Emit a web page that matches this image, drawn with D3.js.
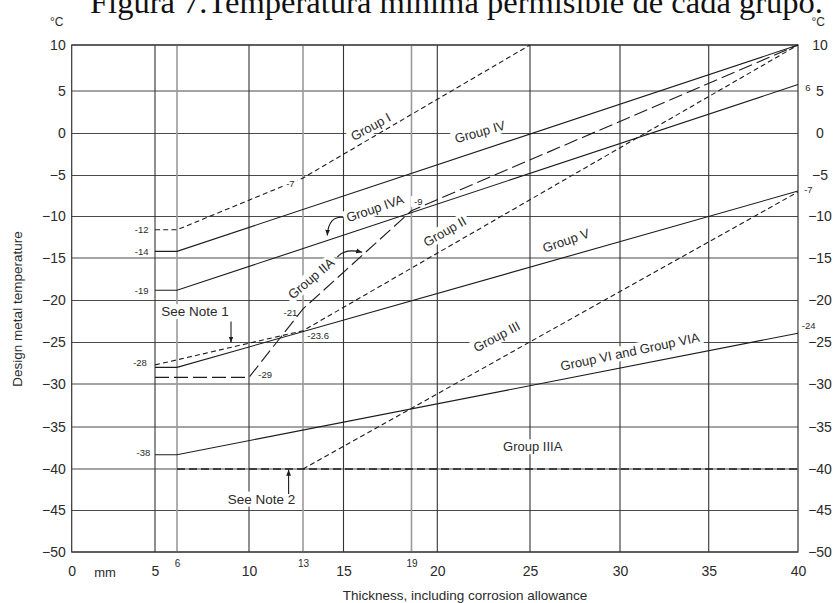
<!DOCTYPE html>
<html>
<head>
<meta charset="utf-8">
<script src="https://cdn.jsdelivr.net/npm/d3@7"></script>
<style>
  html, body { margin: 0; padding: 0; background: #fff; }
  svg { display: block; }
  text { font-family: "Liberation Sans", Arial, Helvetica, sans-serif; fill: #2a2a2a; }
</style>
</head>
<body>
<div id="chart"></div>
<script>
// Minimum permissible design metal temperature per material group
// (thickness in mm, temperature in °C)

const yTicks = [10, 5, 0, -5, -10, -15, -20, -25, -30, -35, -40, -45, -50];
const xTicks = [0, 5, 10, 15, 20, 25, 30, 35, 40];
const xMinorTicks = [6, 13, 19];

// [thickness, temperature] corner points of each curve
const groupI    = [[5, -11.6], [6, -11.6], [13, -5.3], [25, 10]];
const groupIIA  = [[5, -29.2], [10, -29.2], [13, -21], [19, -9.3], [40, 10]];
const groupIV   = [[5, -14.2], [6, -14.2], [40, 10]];
const groupIVA  = [[5, -18.8], [6, -18.8], [40, 5.7]];
const groupII   = [[5, -27.7], [13, -23.6], [40, 10]];
const groupV    = [[5, -28], [6, -28], [40, -6.9]];
const groupIII  = [[13, -40], [40, -7]];
const groupVI   = [[5, -38.3], [6, -38.3], [40, -23.9]];
const groupIIIA = [[6, -40], [40, -40]];

// ---------------------------------------------------------------------------

const W = 838, H = 603;
const svg = d3.select('#chart').append('svg')
    .attr('width', W)
    .attr('height', H);

// the printed chart is not perfectly even, so the scales are calibrated
// against the printed grid lines
const x = d3.scaleLinear()
    .domain([0, 5, 6, 10, 13, 15, 19, 20, 25, 30, 35, 40])
    .range([71.7, 155, 177, 249, 303, 343.5, 411.5, 437.3, 530, 620, 708.7, 798]);
const y = d3.scaleLinear()
    .domain(yTicks)
    .range([45, 91, 133.5, 175.5, 216.5, 258, 300.5, 342.5, 384, 427, 469, 510.5, 552]);

const [x0, x1] = [x(0), x(40)];
const [yTop, yBot] = [y(10), y(-50)];

// title (partly cut off at the top, as in the scan)
svg.append('text')
    .attr('x', 90)
    .attr('y', 13)
    .attr('textLength', 733)
    .attr('lengthAdjust', 'spacingAndGlyphs')
    .style('font-family', '"Liberation Serif", "Times New Roman", serif')
    .style('font-size', '31px')
    .style('fill', '#111')
    .text('Figura 7.Temperatura mínima permisible de cada grupo.');

// grid
const grid = svg.append('g');
grid.selectAll('line.h')
    .data(yTicks)
    .enter().append('line')
    .attr('class', 'h')
    .attr('x1', x0).attr('x2', x1)
    .attr('y1', d => y(d)).attr('y2', d => y(d))
    .attr('stroke', '#4a4a4a')
    .attr('stroke-width', 1.1);
grid.selectAll('line.vminor')
    .data(xMinorTicks)
    .enter().append('line')
    .attr('class', 'vminor')
    .attr('x1', d => x(d)).attr('x2', d => x(d))
    .attr('y1', yTop).attr('y2', yBot)
    .attr('stroke', '#9a9a9a')
    .attr('stroke-width', 1.6);
grid.selectAll('line.v')
    .data(xTicks.filter(d => d > 0 && d < 40))
    .enter().append('line')
    .attr('class', 'v')
    .attr('x1', d => x(d)).attr('x2', d => x(d))
    .attr('y1', yTop).attr('y2', yBot)
    .attr('stroke', '#333')
    .attr('stroke-width', 1.1);
grid.append('rect')
    .attr('x', x0).attr('y', yTop)
    .attr('width', x1 - x0).attr('height', yBot - yTop)
    .attr('fill', 'none')
    .attr('stroke', '#333')
    .attr('stroke-width', 1.2);

// label knockouts sit between the grid and the curves
const bgLayer = svg.append('g');
const curveLayer = svg.append('g');
const fgLayer = svg.append('g');

// curves
const line = d3.line().x(d => x(d[0])).y(d => y(d[1]));
const curves = [
    { data: groupI, dash: '5,3.2', width: 1.1 },
    { data: groupIV, dash: null, width: 1.1 },
    { data: groupIVA, dash: null, width: 1.1 },
    { data: groupIIA, dash: '14,5', width: 1.1 },
    { data: groupII, dash: '5,3.2', width: 1.1 },
    { data: groupV, dash: null, width: 1.1 },
    { data: groupIII, dash: '5,3.2', width: 1.1 },
    { data: groupVI, dash: null, width: 1.1 },
    { data: groupIIIA, dash: '8,4', width: 1.7 }
];
curveLayer.selectAll('path')
    .data(curves)
    .enter().append('path')
    .attr('d', d => line(d.data))
    .attr('fill', 'none')
    .attr('stroke', '#1c1c1c')
    .attr('stroke-width', d => d.width)
    .attr('stroke-dasharray', d => d.dash);

// labels on the curves
function addLabel(text, at, angle, size, knockOverCurves) {
    const tf = `translate(${x(at[0])},${y(at[1])}) rotate(${angle})`;
    const g = fgLayer.append('g').attr('transform', tf);
    const t = g.append('text')
        .attr('text-anchor', 'middle')
        .attr('dy', '0.35em')
        .style('font-size', size + 'px')
        .text(text);
    const bb = t.node().getBBox();
    const host = knockOverCurves ? g : bgLayer.append('g').attr('transform', tf);
    host.insert('rect', 'text')
        .attr('x', bb.x - 3).attr('y', bb.y)
        .attr('width', bb.width + 6).attr('height', bb.height)
        .attr('fill', '#fff');
}

addLabel('Group I', [16.6, 0.8], -29, 13);
addLabel('Group IV', [22.3, 0.2], -16, 13);
addLabel('Group IVA', [16.85, -9.0], -19, 13);
addLabel('Group IIA', [13.4, -17.4], -40, 13);
addLabel('Group II', [20.4, -11.8], -30, 13);
addLabel('Group V', [27.0, -12.9], -19, 13);
addLabel('Group III', [23.2, -24.3], -28, 13);
addLabel('Group VI and Group VIA', [30.56, -26.1], -12, 13);
addLabel('Group IIIA', [25.15, -37.35], 0, 13);
addLabel('See Note 1', [7, -21.3], 0, 13.5);
addLabel('See Note 2', [10.7, -43.6], 0, 13.5);

// temperature values printed next to the curves
addLabel('-12', [4.2, -11.6], 0, 9.5);
addLabel('-14', [4.2, -14.2], 0, 9.5);
addLabel('-19', [4.2, -18.8], 0, 9.5);
addLabel('-28', [4.1, -27.4], 0, 9.5);
addLabel('-38', [4.3, -38.1], 0, 9.5);
addLabel('-29', [10.9, -28.9], 0, 9.5);
addLabel('-21', [12.3, -21.45], 0, 9.5);
addLabel('-23.6', [13.75, -24.2], 0, 9.5);
addLabel('-9', [19.26, -8.2], 0, 9.5);
addLabel('-7', [12.3, -6.0], 0, 9.5, true);
addLabel('6', [40.56, 5.4], 0, 9.5);
addLabel('-7', [40.58, -6.7], 0, 9.5);
addLabel('-24', [40.6, -23.0], 0, 9.5);

// arrows
const defs = svg.append('defs');
defs.append('marker')
    .attr('id', 'head')
    .attr('viewBox', '0 0 10 10')
    .attr('refX', 10).attr('refY', 5)
    .attr('markerWidth', 6).attr('markerHeight', 6)
    .attr('markerUnits', 'userSpaceOnUse')
    .attr('orient', 'auto')
    .append('path')
    .attr('d', 'M0,1 L10,5 L0,9 Z')
    .attr('fill', '#1c1c1c');

const arrow = (p0, c, p1) => {
    const path = d3.path();
    path.moveTo(x(p0[0]), y(p0[1]));
    if (c) path.quadraticCurveTo(x(c[0]), y(c[1]), x(p1[0]), y(p1[1]));
    else path.lineTo(x(p1[0]), y(p1[1]));
    fgLayer.append('path')
        .attr('d', path.toString())
        .attr('fill', 'none')
        .attr('stroke', '#1c1c1c')
        .attr('stroke-width', 1.1)
        .attr('marker-end', 'url(#head)');
};
arrow([9, -22.5], null, [9, -25]);
arrow([12.2, -43.0], null, [12.2, -40.1]);
arrow([15.0, -10.1], [14.25, -9.9], [14.2, -12.3]);
arrow([14.7, -14.9], [15.05, -13.8], [16.1, -14.3]);

// axes
const fmt = d3.format('d');
const left = svg.append('g')
    .attr('transform', `translate(${x0},0)`)
    .call(d3.axisLeft(y).tickValues(yTicks).tickSize(0).tickPadding(6).tickFormat(fmt));
const right = svg.append('g')
    .attr('transform', `translate(${x1},0)`)
    .call(d3.axisRight(y).tickValues(yTicks).tickSize(0).tickFormat(fmt));
right.selectAll('text').attr('x', 22).attr('text-anchor', 'middle');

const bottom = svg.append('g')
    .attr('transform', `translate(0,${yBot})`)
    .call(d3.axisBottom(x).tickValues(xTicks).tickSize(0).tickFormat(fmt));
bottom.selectAll('text').attr('y', 24).attr('dy', 0);
const bottomMinor = svg.append('g')
    .attr('transform', `translate(0,${yBot})`)
    .call(d3.axisBottom(x).tickValues(xMinorTicks).tickSize(0).tickFormat(fmt));
bottomMinor.selectAll('text').attr('y', 14.5).attr('dy', 0).style('font-size', '10px');

[left, right, bottom, bottomMinor].forEach(a => {
    a.select('.domain').remove();
    a.selectAll('text')
        .style('font-family', '"Liberation Sans", Arial, sans-serif')
        .style('fill', '#2a2a2a');
});
[left, right, bottom].forEach(a => a.selectAll('text').style('font-size', '14px'));

svg.append('text')
    .attr('x', x(2)).attr('y', 577)
    .attr('text-anchor', 'middle')
    .style('font-size', '13px')
    .text('mm');

svg.append('text')
    .attr('x', 56.7).attr('y', 26)
    .attr('text-anchor', 'middle')
    .style('font-size', '12px')
    .text('°C');
svg.append('text')
    .attr('x', 818.3).attr('y', 26)
    .attr('text-anchor', 'middle')
    .style('font-size', '12px')
    .text('°C');

// axis titles
svg.append('text')
    .attr('x', 465).attr('y', 600)
    .attr('text-anchor', 'middle')
    .style('font-size', '13.5px')
    .text('Thickness, including corrosion allowance');
svg.append('text')
    .attr('transform', 'translate(21.5,309) rotate(-90)')
    .attr('text-anchor', 'middle')
    .style('font-size', '13.5px')
    .text('Design metal temperature');
</script>
</body>
</html>
